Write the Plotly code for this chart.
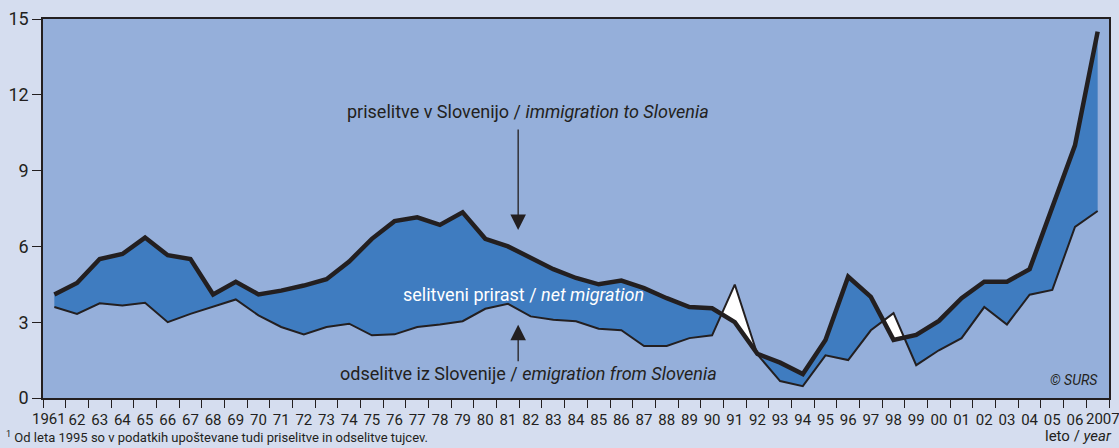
"""Selitve prebivalstva Slovenije, 1961-2007."""

import plotly.graph_objects as go

years = list(range(1961, 2008))
year_labels = [""] + [f"{y % 100:02d}" for y in range(1962, 2007)] + [""]
first_label, last_label = "1961", "2007"

# priselitve v Slovenijo / immigration to Slovenia (per 1000 population)
immigration = [
    4.1, 4.55, 5.5, 5.7, 6.35, 5.65, 5.5, 4.1, 4.6, 4.1,
    4.25, 4.45, 4.7, 5.4, 6.3, 7.0, 7.15, 6.85, 7.35, 6.3,
    6.0, 5.55, 5.1, 4.75, 4.5, 4.65, 4.35, 3.95, 3.6, 3.55,
    3.0, 1.75, 1.4, 0.95, 2.3, 4.8, 4.0, 2.3, 2.5, 3.05,
    3.95, 4.6, 4.6, 5.1, 7.55, 10.0, 14.5,
]
# odselitve iz Slovenije / emigration from Slovenia
emigration = [
    3.6, 3.33, 3.75, 3.66, 3.77, 3.0, 3.33, 3.6, 3.9, 3.27,
    2.81, 2.52, 2.81, 2.94, 2.48, 2.52, 2.81, 2.91, 3.04, 3.53,
    3.73, 3.23, 3.1, 3.04, 2.74, 2.68, 2.06, 2.06, 2.37, 2.48,
    4.49, 1.72, 0.67, 0.47, 1.69, 1.5, 2.68, 3.36, 1.3, 1.89,
    2.37, 3.6, 2.91, 4.09, 4.28, 6.77, 7.4,
]

PAPER = "#d5ddef"
PLOT_BG = "#95afda"
POS_FILL = "#3f7cc0"
NEG_FILL = "#ffffff"
INK = "#231f20"
FONT = "Roboto, Liberation Sans, sans-serif"
TICK_SIZE = 15


def lobes(x, a, b):
    """Split the band between a and b into polygons where a>b or a<b."""
    out = []
    top, bot = [(x[0], a[0])], [(x[0], b[0])]
    sign = a[0] >= b[0]
    for i in range(len(x) - 1):
        d0, d1 = a[i] - b[i], a[i + 1] - b[i + 1]
        if (d1 >= 0) != sign:
            t = d0 / (d0 - d1)
            xc = x[i] + t * (x[i + 1] - x[i])
            yc = a[i] + t * (a[i + 1] - a[i])
            top.append((xc, yc))
            bot.append((xc, yc))
            out.append((top, bot, sign))
            top, bot = [(xc, yc)], [(xc, yc)]
            sign = not sign
        top.append((x[i + 1], a[i + 1]))
        bot.append((x[i + 1], b[i + 1]))
    out.append((top, bot, sign))
    return out


fig = go.Figure()

for top, bot, positive in lobes(years, immigration, emigration):
    pts = top + bot[::-1]
    fig.add_trace(go.Scatter(
        x=[p[0] for p in pts], y=[p[1] for p in pts],
        mode="lines", fill="toself",
        fillcolor=POS_FILL if positive else NEG_FILL,
        line=dict(width=0), hoverinfo="skip", showlegend=False,
    ))

fig.add_trace(go.Scatter(
    x=years, y=emigration, mode="lines",
    line=dict(color=INK, width=2), name="odselitve", showlegend=False,
))
fig.add_trace(go.Scatter(
    x=years, y=immigration, mode="lines",
    line=dict(color=INK, width=4.5), name="priselitve", showlegend=False,
))

annotations = [
    dict(x=1981.9, y=11.34, text="priselitve v Slovenijo / <i>immigration to Slovenia</i>",
         showarrow=False, font=dict(size=18, color=INK)),
    dict(x=1981.7, y=4.08, text="selitveni prirast / <i>net migration</i>",
         showarrow=False, font=dict(size=18, color="white")),
    dict(x=1981.9, y=0.98, text="odselitve iz Slovenije / <i>emigration from Slovenia</i>",
         showarrow=False, font=dict(size=18, color=INK)),
    # arrows
    dict(x=1981.45, y=6.65, ax=0, ay=-102, text="", showarrow=True,
         arrowhead=2, arrowsize=2.4, arrowwidth=1.3, arrowcolor=INK),
    dict(x=1981.45, y=2.9, ax=0, ay=38, text="", showarrow=True,
         arrowhead=2, arrowsize=2.4, arrowwidth=1.3, arrowcolor=INK),
    dict(x=2007.1, y=0.3, text="<i>© SURS</i>", showarrow=False,
         xanchor="right", yanchor="bottom", font=dict(size=14, color=INK)),
    # first and last year labels, nudged outward so they clear their neighbours
    dict(x=years[0] + 0.6, y=-0.055, yref="paper", xanchor="right", yanchor="middle",
         text=first_label, showarrow=False, font=dict(size=TICK_SIZE, color=INK)),
    dict(x=years[-1] - 0.62, y=-0.055, yref="paper", xanchor="left", yanchor="middle",
         text=last_label, showarrow=False, font=dict(size=TICK_SIZE, color=INK)),
    dict(xref="paper", yref="paper", x=1.005, y=-0.128, xanchor="right", yanchor="bottom",
         text="leto / <i>year</i>", showarrow=False, font=dict(size=15, color=INK)),
    dict(xref="paper", yref="paper", x=-0.037, y=-0.128, xanchor="left", yanchor="bottom",
         text="<sup>1</sup> Od leta 1995 so v podatkih upoštevane tudi priselitve in odselitve tujcev.",
         showarrow=False, font=dict(size=13, color=INK)),
]

fig.update_layout(
    width=1119, height=448,
    margin=dict(l=43, r=8, t=17, b=50),
    paper_bgcolor=PAPER, plot_bgcolor=PLOT_BG,
    font=dict(family=FONT, color=INK),
    annotations=annotations,
    xaxis=dict(
        range=[1960.5, 2007.5], tickmode="array", tickvals=years, ticktext=year_labels,
        ticks="", tickangle=0, ticklabelstandoff=7, showgrid=False, zeroline=False,
        showline=True, linecolor=INK, linewidth=1.5, mirror=True,
        tickfont=dict(size=TICK_SIZE, color=INK),
        minor=dict(ticks="outside", tick0=1960.5, dtick=1, ticklen=8,
                   tickcolor=INK, tickwidth=1, showgrid=False),
    ),
    yaxis=dict(
        range=[0, 15], tickvals=[0, 3, 6, 9, 12, 15], ticks="outside", ticklen=9,
        tickcolor=INK, tickwidth=1, showgrid=False, zeroline=False,
        showline=True, linecolor=INK, linewidth=1.5, mirror=True,
        tickfont=dict(size=18, color=INK),
    ),
)

# the page keeps the browser's default body margin otherwise
fig.write_html(
    "out.html",
    config={"displayModeBar": False},
    post_script="document.body.style.margin='0';"
                f"document.body.style.background='{PAPER}';",
)
